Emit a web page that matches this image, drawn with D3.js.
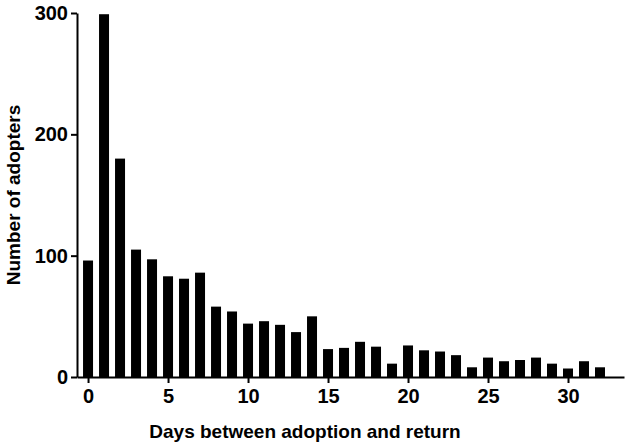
<!DOCTYPE html><html><head><meta charset="utf-8">
<script src="https://cdn.jsdelivr.net/npm/d3@7"></script>
<style>body{margin:0;background:#fff}</style></head><body><svg id="c" width="629" height="448"></svg>
<script>
const days=d3.range(0,33);
const counts=[96,299,180,105,97,83,81,86,58,54,44,46,43,37,50,23,24,29,25,11,26,22,21,18,8,16,13,14,16,11,7,13,8];
const xTicks=[0,5,10,15,20,25,30];
const yTicks=[0,100,200,300];
const svg=d3.select("#c");
const x=d3.scaleLinear().domain([-0.69,33.5]).range([77,624]);
const y=d3.scaleLinear().domain([0,300]).range([377,13]);
const font="Liberation Sans, Arial, sans-serif";
svg.selectAll("rect").data(counts).enter().append("rect")
 .attr("x",(d,i)=>x(days[i])-5).attr("width",10)
 .attr("y",d=>y(d)).attr("height",d=>y(0)-y(d)).attr("fill","#000");
const xa=svg.append("g").attr("transform","translate(0,377)").call(d3.axisBottom(x).tickValues(xTicks).tickSize(6).tickSizeOuter(0).tickPadding(6));
const ya=svg.append("g").attr("transform","translate(77,0)").call(d3.axisLeft(y).tickValues(yTicks).tickSize(6).tickSizeOuter(0).tickPadding(3));
[xa,ya].forEach(a=>{a.select(".domain").attr("stroke","#000").attr("stroke-width",2);
 a.selectAll(".tick line").attr("stroke","#000").attr("stroke-width",2);
 a.selectAll("text").attr("font-family",font).attr("font-size",20).attr("font-weight","bold").attr("fill","#000");});
svg.append("text").attr("x",305).attr("y",438).attr("text-anchor","middle").attr("font-family",font).attr("font-size",19).attr("font-weight","bold").text("Days between adoption and return");
svg.append("text").attr("transform","translate(20,195) rotate(-90)").attr("text-anchor","middle").attr("font-family",font).attr("font-size",19).attr("font-weight","bold").text("Number of adopters");
</script></body></html>
